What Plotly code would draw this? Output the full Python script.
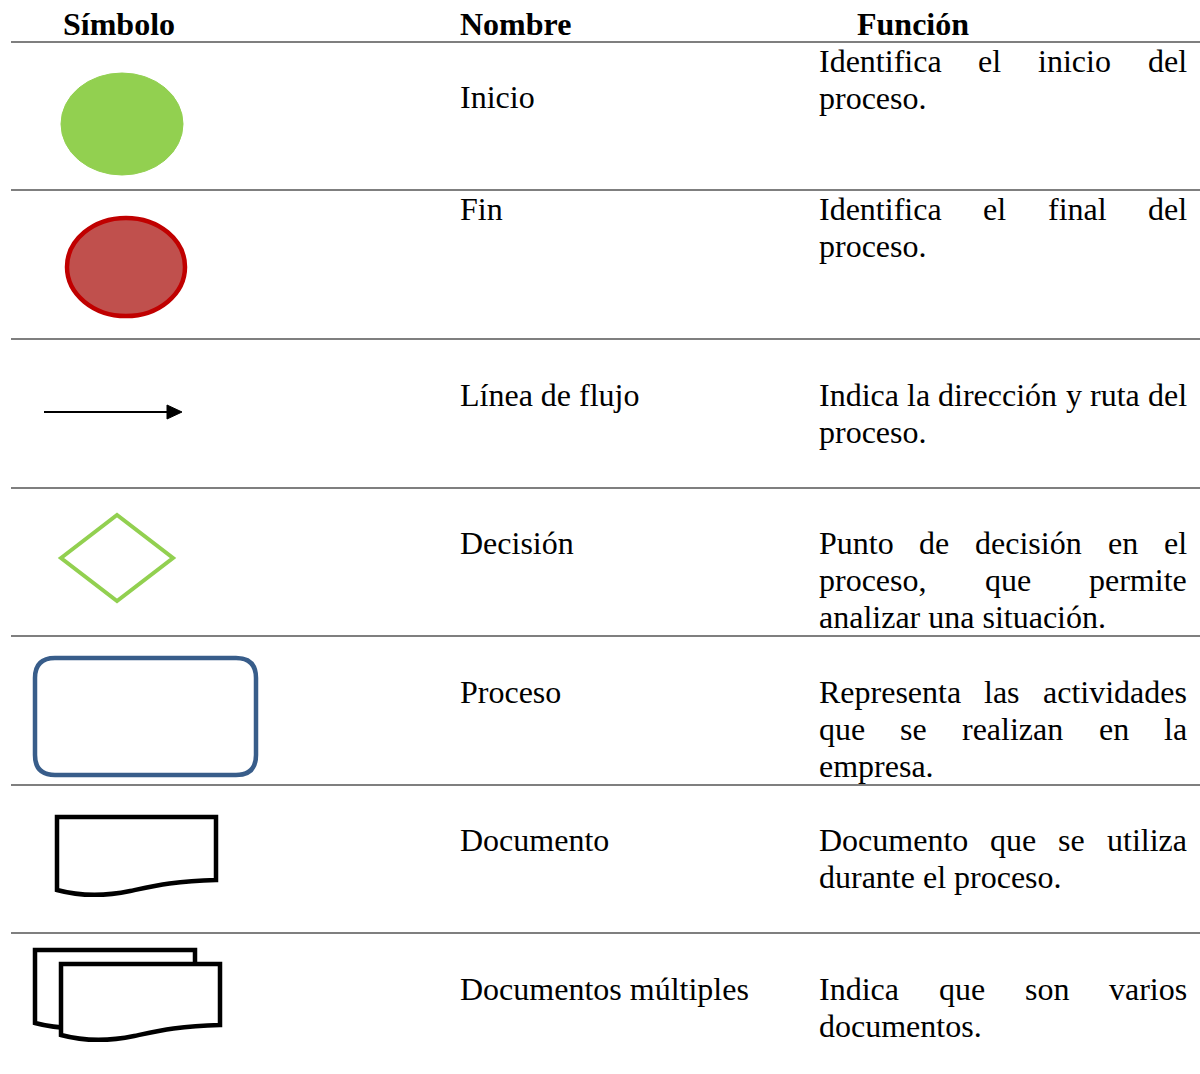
import plotly.graph_objects as go

# ---------------- data ----------------
headers = ["Símbolo", "Nombre", "Función"]
symbols = ["inicio", "fin", "flecha", "decision", "proceso", "documento", "documentos"]
names = ["Inicio", "Fin", "Línea de flujo", "Decisión", "Proceso", "Documento",
         "Documentos múltiples"]
functions = [
    ["Identifica el inicio del", "proceso."],
    ["Identifica el final del", "proceso."],
    ["Indica la dirección y ruta del", "proceso."],
    ["Punto de decisión en el", "proceso, que permite", "analizar una situación."],
    ["Representa las actividades", "que se realizan en la", "empresa."],
    ["Documento que se utiliza", "durante el proceso."],
    ["Indica que son varios", "documentos."],
]

# ---------------- layout constants ----------------
W, H = 1200, 1074
FONT = "Liberation Serif, Times New Roman, serif"
FS = 32
LINE_H = 37
GRID_COLOR = "#7F7F7F"
row_tops = [42, 190, 339, 488, 636, 785, 933]
name_y = [97, 209, 395, 543, 692, 840, 989]
func_y0 = [61, 209, 395, 543, 692, 840, 989]
COL_NAME_X = 458
COL_FUNC_X0, COL_FUNC_X1 = 817, 1185

# Times metrics (1/1000 em)
CW = {' ': 250, ',': 250, '.': 250, 'a': 444, 'b': 500, 'c': 444, 'd': 500, 'e': 444,
      'f': 333, 'g': 500, 'h': 500, 'i': 278, 'j': 278, 'k': 500, 'l': 278, 'm': 778,
      'n': 500, 'o': 500, 'p': 500, 'q': 500, 'r': 333, 's': 389, 't': 278, 'u': 500,
      'v': 500, 'w': 722, 'x': 500, 'y': 500, 'z': 444, 'I': 333, 'P': 556, 'R': 667,
      'D': 722, 'á': 444, 'é': 444, 'í': 278, 'ó': 500, 'ú': 500}


def word_w(w):
    return sum(CW.get(c, 500) for c in w) * FS / 1000.0


fig = go.Figure()
shapes = []
ann = []


def text(x, y, s, bold=False, xanchor="left"):
    ann.append(dict(x=x, y=y, xref="x", yref="y", text=f"<b>{s}</b>" if bold else s,
                    showarrow=False, xanchor=xanchor, yanchor="middle",
                    font=dict(family=FONT, size=FS, color="black")))


# header
text(61, 24, headers[0], bold=True)
text(458, 24, headers[1], bold=True)
text(855, 24, headers[2], bold=True)

# grid lines
for y in row_tops:
    shapes.append(dict(type="line", xref="x", yref="y", x0=11, x1=W, y0=y, y1=y,
                       line=dict(color=GRID_COLOR, width=2)))

# names and justified functions
for i, (nm, lines) in enumerate(zip(names, functions)):
    text(COL_NAME_X, name_y[i], nm)
    for j, ln in enumerate(lines):
        y = func_y0[i] + j * LINE_H
        words = ln.split()
        last = j == len(lines) - 1
        if last or len(words) == 1:
            text(COL_FUNC_X0, y, ln)
            continue
        widths = [word_w(w) for w in words]
        gap = (COL_FUNC_X1 - COL_FUNC_X0 - sum(widths)) / (len(words) - 1)
        x = COL_FUNC_X0
        for w, wd in zip(words, widths):
            text(x, y, w)
            x += wd + gap


def doc_path(x0, x1, y0, yr, yl):
    # rectangle with wavy bottom (right bottom yr, left bottom yl)
    span = x1 - x0
    return (f"M{x0},{y0} L{x1},{y0} L{x1},{yr} "
            f"C{x1 - 0.26 * span},{yr + 1} {x1 - 0.39 * span},{yr + 6} {x0 + 0.46 * span},{yl + 1} "
            f"C{x0 + 0.28 * span},{yl + 7} {x0 + 0.14 * span},{yl + 6} {x0},{yl} Z")


# symbols
for i, s in enumerate(symbols):
    if s == "inicio":
        shapes.append(dict(type="circle", x0=61, x1=183, y0=73, y1=175,
                           fillcolor="#92D050", line=dict(color="#92D050", width=1)))
    elif s == "fin":
        shapes.append(dict(type="circle", x0=67, x1=185, y0=218, y1=316,
                           fillcolor="#C0504D", line=dict(color="#C00000", width=4.5)))
    elif s == "flecha":
        shapes.append(dict(type="line", x0=44, x1=170, y0=412, y1=412,
                           line=dict(color="black", width=2)))
        shapes.append(dict(type="path", path="M167,405 L182,412 L167,419 Z",
                           fillcolor="black", line=dict(color="black", width=1)))
    elif s == "decision":
        shapes.append(dict(type="path", path="M61,558 L117,515 L173,558 L117,601 Z",
                           fillcolor="rgba(0,0,0,0)", line=dict(color="#92D050", width=4)))
    elif s == "proceso":
        x0, x1, y0, y1, r = 35, 256, 658, 775, 20
        p = (f"M{x0 + r},{y0} L{x1 - r},{y0} Q{x1},{y0} {x1},{y0 + r} L{x1},{y1 - r} "
             f"Q{x1},{y1} {x1 - r},{y1} L{x0 + r},{y1} Q{x0},{y1} {x0},{y1 - r} "
             f"L{x0},{y0 + r} Q{x0},{y0} {x0 + r},{y0} Z")
        shapes.append(dict(type="path", path=p, fillcolor="white",
                           line=dict(color="#385D8A", width=4.5)))
    elif s == "documento":
        shapes.append(dict(type="path", path=doc_path(57, 216, 817, 880, 890),
                           fillcolor="white", line=dict(color="black", width=4.5)))
    elif s == "documentos":
        shapes.append(dict(type="path", path=doc_path(35, 195, 950, 1015, 1023),
                           fillcolor="white", line=dict(color="black", width=4.5)))
        shapes.append(dict(type="path", path=doc_path(61, 220, 964, 1025, 1035),
                           fillcolor="white", line=dict(color="black", width=4.5)))

for sh in shapes:
    sh.setdefault("xref", "x")
    sh.setdefault("yref", "y")
    sh["layer"] = "above"

fig.update_layout(
    width=W, height=H, margin=dict(l=0, r=0, t=0, b=0),
    paper_bgcolor="white", plot_bgcolor="white",
    xaxis=dict(range=[0, W], visible=False, fixedrange=True),
    yaxis=dict(range=[H, 0], visible=False, fixedrange=True),
    shapes=shapes, annotations=ann, showlegend=False,
)
fig.write_html("out.html", config={"displayModeBar": False},
               post_script="document.body.style.margin='0';document.body.style.overflow='hidden';")
